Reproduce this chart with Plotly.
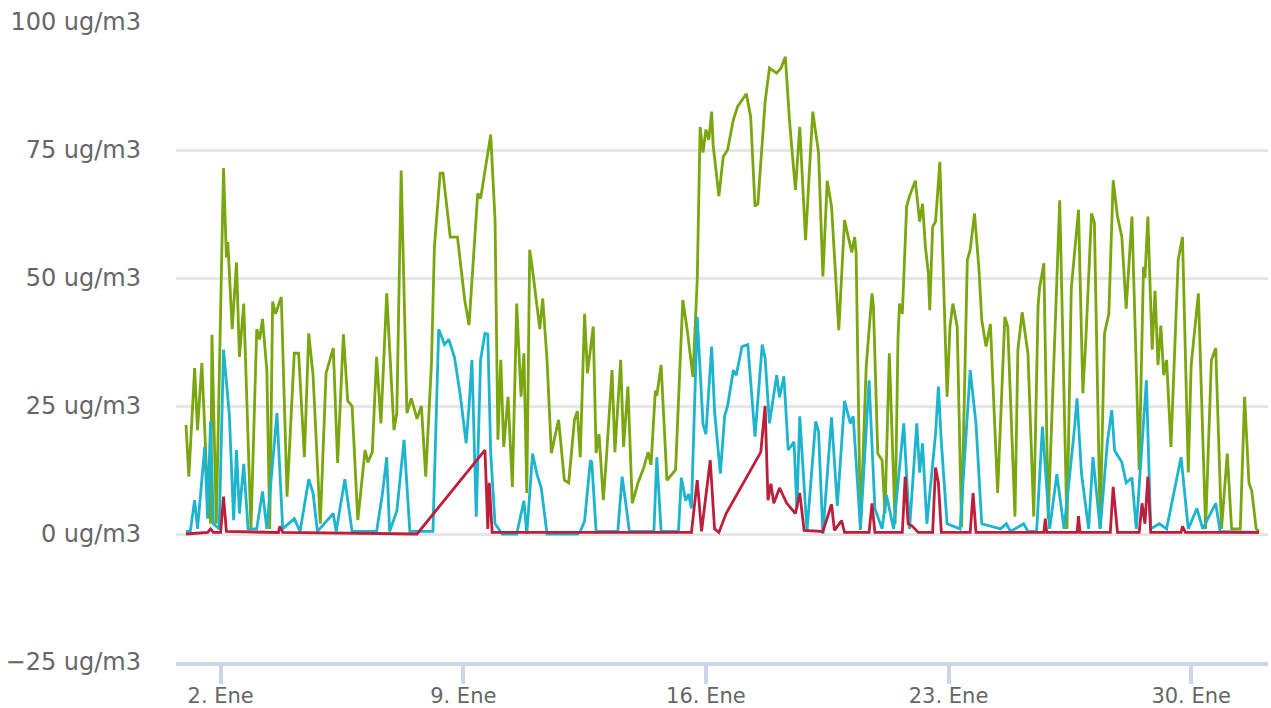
import pandas as pd
import plotly.graph_objects as go

# ---- data (hours since 1 Jan 00:00, value in ug/m3) ----
green_pts = [(0,21.3),(2,11.2),(6,32.4),(8,20.3),(11,33.4),(14,13.9),(17,2),(18,38.9),(21,2),(26,71.5),(28,54),(29,57),(32,40),(35,53),(37,34.6),(40,45),(45,1),(49,40),(51,38),(53,42),(56,32),(58,1),(60,45.4),(62,43),(66,46.3),(70,7.3),(75,35.3),(78,35.3),(82,15),(85,39.2),(88,31),(93,2),(97,31.4),(102,36.3),(105,13.9),(109,39),(112,26),(115,25),(119,2.7),(124,16.4),(126,14),(129,16),(132,34.6),(135,21.6),(139,47),(144,20.3),(146,23.6),(149,71),(153,23.6),(156,26.5),(160,22.5),(163,25),(166,11.2),(170,33.4),(172,56),(176,70.5),(178,70.5),(183,58),(188,58),(193,45.7),(196,40.8),(202,66.5),(204,65.5),(208,72.4),(211,78),(214,61.4),(216,18.4),(218,34),(220,17),(223,26.8),(226,9.2),(229,45),(232,26.8),(234,35.3),(236,8),(238,55.5),(240,51.5),(245,40),(247,46),(250,34),(253,15.8),(258,22.3),(262,10.5),(265,10),(269,22.3),(271,24),(273,15),(276,43),(278,31.4),(282,40.5),(284,15.8),(286,19.5),(289,6.6),(291,14.4),(295,32),(297,16),(301,34),(303,17),(306,28.8),(309,6),(313,10),(317,13),(320,16),(322,13.5),(325,28),(326,27),(329,33),(333,10.5),(339,12.5),(344,45.7),(347,40),(351,30.7),(354,49.6),(356,79.5),(358,74.5),(360,79),(362,77),(364,82.5),(365,76),(369,66),(372,73.7),(375,75),(379,80.9),(382,83.5),(388,86),(391,81.5),(394,64),(396,64.5),(401,84.4),(404,91),(409,90),(412,91),(415,93.2),(418,80.3),(422,67.2),(425,79.5),(429,57.4),(434,82.5),(438,74.5),(441,50.3),(444,69),(447,64),(452,39.8),(456,61.3),(461,55),(463,58),(464,55),(467,0.8),(471,32.7),(475,47),(476,44.5),(479,15.7),(482,14.4),(484,4),(487,35.3),(491,2),(493,38),(494,45),(496,43),(499,64),(501,66),(505,69),(508,61),(510,64.5),(512,56),(514,51),(515,43.7),(517,60),(519,61),(522,72.7),(524,54.2),(527,26.8),(529,40.5),(531,45),(534,40.5),(537,1.3),(541,53.5),(543,55.5),(546,62.6),(549,52),(551,41.8),(554,36.6),(557,41),(562,8),(567,42.4),(569,40.5),(574,3.4),(576,35.9),(579,43.3),(583,35.2),(587,3.4),(590,44.4),(591,48),(594,52.9),(597,3),(605,65.2),(610,1),(613,48),(618,63.3),(621,27.5),(623,37.5),(627,62.6),(629,60.8),(633,1),(636,39.2),(639,43),(642,69.1),(645,62),(648,58),(651,44),(655,62),(660,12.5),(663,52.2),(664,50),(666,62),(669,36),(671,47.5),(673,33),(675,40.7),(677,31),(679,34),(682,17),(687,53.5),(690,58),(694,12),(696,33),(701,47),(706,1),(710,34),(713,36.3),(717,1),(721,15.7),(724,1),(730,1),(733,26.8),(736,10),(738,8.4),(741,1),(743,0.5)]

cyan_pts = [(0,0.5),(3,0.5),(6,6.6),(8,1),(13,17),(15,3),(17,22),(19,2),(23,1),(26,36),(30,23.4),(33,2.7),(35,16.4),(37,4),(40,13.7),(43,1),(49,1),(53,8.3),(56,1),(63,23.6),(67,1),(75,3),(79,0.5),(85,10.7),(88,8),(91,0.5),(102,4),(104,0.5),(110,10.7),(115,0.5),(132,0.5),(136,7.8),(139,15),(141,0.5),(146,4.5),(151,18.4),(155,0.5),(171,0.5),(175,40),(179,37),(182,38),(186,34.4),(190,27),(194,17.7),(196,25),(198,34),(201,3.4),(204,34),(207,39.2),(209,39),(211,15.8),(214,2),(219,0),(229,0),(234,6.5),(236,0),(240,15.7),(243,11.7),(246,9),(250,0),(271,0),(273,0.5),(276,2.5),(280,14.4),(281,14),(284,0.5),(299,0.5),(302,11.2),(305,5),(307,0.5),(324,0.5),(326,15),(329,0.5),(341,0.5),(343,11),(346,6.5),(348,7.8),(350,5),(354,42.4),(358,21.5),(360,19.5),(364,36.6),(366,24),(370,11.8),(373,23),(375,25),(379,32),(381,31),(385,36.6),(389,37),(394,19),(399,37),(401,34.4),(404,21.6),(409,31),(411,26.7),(414,30.8),(417,16.4),(421,18),(423,5),(425,23),(430,0.5),(436,22),(438,20),(441,0),(447,22.8),(451,5.5),(456,26),(460,21.6),(462,23),(467,1),(473,30),(477,5),(482,1),(485,7.6),(490,1),(497,21.6),(501,1),(506,21.6),(508,12),(510,17.7),(513,2),(519,19.5),(521,28.8),(523,18),(527,2),(536,1),(543,32),(547,21.6),(551,2),(564,1),(568,2),(571,0.5),(580,2),(583,0.5),(589,0.5),(593,21),(598,1),(603,11.7),(608,1),(615,20),(617,26.5),(620,12),(625,1),(628,15),(633,1),(638,18),(641,24.2),(643,16.3),(648,14),(651,10),(655,11),(658,1),(665,30),(668,1),(674,2),(679,1),(689,15),(694,1),(700,5),(704,1),(713,6),(716,0.5),(743,0.3)]

red_pts = [(0,0),(15,0.3),(17,1),(19,0.3),(24,0.3),(26,7.3),(28,0.5),(64,0.3),(65,1.5),(67,0.3),(160,0),(207,16.4),(208,9),(209,1),(210,10),(211,5),(212,0.3),(350,0.3),(354,10.5),(357,0.5),(363,14.4),(366,1),(369,0.3),(374,4),(398,16),(401,25),(403,6.6),(405,9.8),(407,6),(411,9),(416,6),(422,4),(425,8),(428,0.7),(441,0.5),(447,5.8),(449,0.7),(454,2.6),(456,0.3),(473,0.3),(475,6),(477,0.3),(496,0.3),(498,11.2),(500,2),(503,1.5),(507,0.3),(517,0.3),(519,13),(521,10),(523,0.3),(543,0.3),(545,8),(547,0.3),(594,0.3),(595,3),(596,0.3),(617,0.3),(618,3.5),(619,0.3),(640,0.3),(642,9.2),(645,0.3),(660,0.3),(662,6),(664,2),(666,11.2),(668,0.3),(689,0.3),(690,1.5),(692,0.3),(743,0.3)]

tick_days = [2, 9, 16, 23, 30]
tick_labels = ["2. Ene", "9. Ene", "16. Ene", "23. Ene", "30. Ene"]
y_ticks = [-25, 0, 25, 50, 75, 100]

base = pd.Timestamp("2019-01-01 00:00")


def to_time(hours):
    return [base + pd.Timedelta(hours=h) for h in hours]


fig = go.Figure()
for pts, color in [(green_pts, "#7aa60f"), (cyan_pts, "#1db4d0"), (red_pts, "#bd1e3b")]:
    hrs, vals = zip(*pts)
    fig.add_trace(go.Scatter(x=to_time(hrs), y=list(vals), mode="lines",
                             line=dict(color=color, width=2.8), showlegend=False))

fig.update_layout(
    width=1271, height=708,
    margin=dict(l=176, r=3, t=22, b=46),
    paper_bgcolor="white", plot_bgcolor="white",
    font=dict(family="DejaVu Sans", color="#666666"),
    showlegend=False,
)
fig.update_xaxes(
    range=[base - pd.Timedelta(hours=6.9), base + pd.Timedelta(hours=749.2)],
    tickvals=[base + pd.Timedelta(days=d - 1) for d in tick_days],
    ticktext=tick_labels,
    showgrid=False, zeroline=False, automargin=False,
    showline=True, linecolor="#ccd6eb", linewidth=4,
    ticks="outside", ticklen=18, tickwidth=4, tickcolor="#ccd6eb",
    ticklabelstandoff=-6,
    tickfont=dict(size=21, color="#666666"),
)
fig.update_yaxes(
    range=[-25, 100],
    tickvals=y_ticks,
    ticktext=[("\u2212" + str(abs(v)) if v < 0 else str(v)) + " ug/m3" for v in y_ticks],
    showgrid=True, gridcolor="#e6e6e6", gridwidth=3,
    zeroline=False, showline=False, ticks="", automargin=False,
    ticklabelstandoff=34,
    tickfont=dict(size=24, color="#666666"),
)

fig.write_html(
    "out.html",
    config={"displayModeBar": False},
    post_script="document.body.style.margin='0px';document.body.style.overflow='hidden';",
)
